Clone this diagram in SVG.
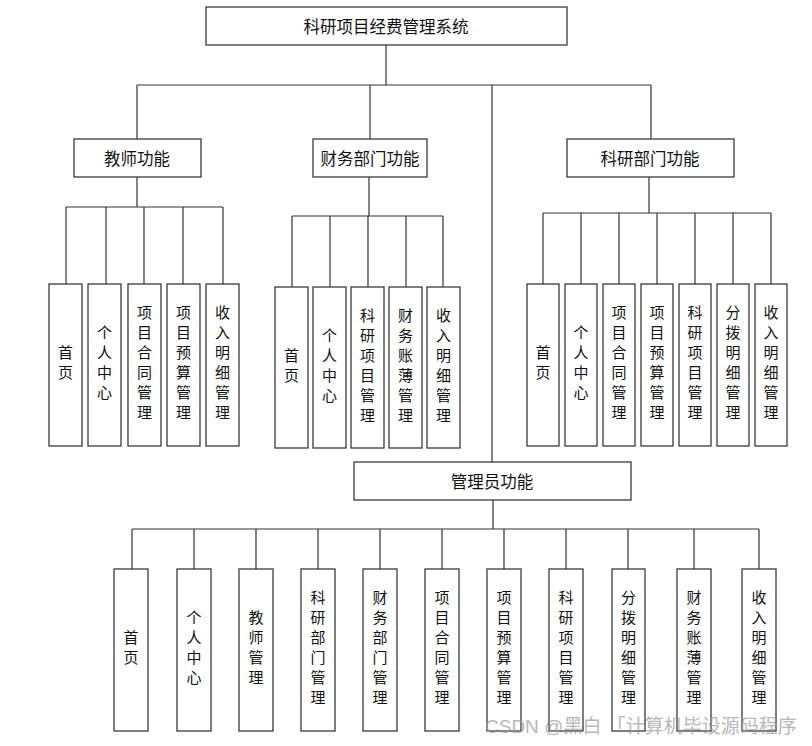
<svg xmlns="http://www.w3.org/2000/svg" width="812" height="746" viewBox="0 0 812 746">
<style>
.box{fill:#fff;stroke:#3a3a3a;stroke-width:1.3}
.ln{fill:none;stroke:#333;stroke-width:1.2}
.h{font-family:"Noto Sans CJK SC","Noto Sans",sans-serif;font-size:16.5px;fill:#111;text-anchor:middle;dominant-baseline:central}
.v{font-family:"Noto Sans CJK SC","Noto Sans",sans-serif;font-size:15px;fill:#111;text-anchor:middle}
.wm{font-family:"Liberation Sans","Noto Sans CJK SC",sans-serif;font-size:19px;fill:#999;opacity:0.7}
</style>
<rect width="812" height="746" fill="#fff"/>
<g id="connectors" class="ln">
<path d="M386,45V85M137,85H651M137,85V139M370,85V139M492,85V462M651,85V139"/>
<path d="M137,177V207M66,207H223M66,207V284M106,207V284M144,207V284M183,207V284M223,207V284"/>
<path d="M369,177V216M292,216H443M292,216V287M330,216V287M368,216V287M406,216V287M443,216V287"/>
<path d="M649,177V213M543,213H771M543,213V284M581,213V284M619,213V284M657,213V284M695,213V284M733,213V284M771,213V284"/>
<path d="M493,500V529M132,529H759M132,529V569M194,529V569M256,529V569M318,529V569M380,529V569M442,529V569M504,529V569M566,529V569M628,529V569M694,529V569M759,529V569"/>
</g>
<g id="root"><rect class="box" x="206" y="7" width="361" height="38"/><text class="h" x="386" y="26">科研项目经费管理系统</text></g>
<g id="teacher"><rect class="box" x="74" y="139" width="127" height="38"/><text class="h" x="137" y="158">教师功能</text></g>
<g id="finance"><rect class="box" x="313" y="139" width="114" height="38"/><text class="h" x="370" y="158">财务部门功能</text></g>
<g id="research"><rect class="box" x="567" y="139" width="167" height="38"/><text class="h" x="650" y="158">科研部门功能</text></g>
<g id="admin"><rect class="box" x="354" y="462" width="277" height="38"/><text class="h" x="492" y="481">管理员功能</text></g>

<!-- teacher children -->
<g id="t1"><rect class="box" x="49" y="284" width="33" height="162"/><text class="v" x="65.5"><tspan x="65.5" y="358">首</tspan><tspan x="65.5" y="378">页</tspan></text></g>
<g id="t2"><rect class="box" x="88" y="284" width="33" height="162"/><text class="v"><tspan x="104.5" y="338">个</tspan><tspan x="104.5" y="358">人</tspan><tspan x="104.5" y="378">中</tspan><tspan x="104.5" y="398">心</tspan></text></g>
<g id="t3"><rect class="box" x="128" y="284" width="33" height="162"/><text class="v"><tspan x="144.5" y="318">项</tspan><tspan x="144.5" y="338">目</tspan><tspan x="144.5" y="358">合</tspan><tspan x="144.5" y="378">同</tspan><tspan x="144.5" y="398">管</tspan><tspan x="144.5" y="418">理</tspan></text></g>
<g id="t4"><rect class="box" x="167" y="284" width="33" height="162"/><text class="v"><tspan x="183.5" y="318">项</tspan><tspan x="183.5" y="338">目</tspan><tspan x="183.5" y="358">预</tspan><tspan x="183.5" y="378">算</tspan><tspan x="183.5" y="398">管</tspan><tspan x="183.5" y="418">理</tspan></text></g>
<g id="t5"><rect class="box" x="206" y="284" width="33" height="162"/><text class="v"><tspan x="222.5" y="318">收</tspan><tspan x="222.5" y="338">入</tspan><tspan x="222.5" y="358">明</tspan><tspan x="222.5" y="378">细</tspan><tspan x="222.5" y="398">管</tspan><tspan x="222.5" y="418">理</tspan></text></g>

<!-- finance children -->
<g id="f1"><rect class="box" x="275" y="287" width="33" height="161"/><text class="v"><tspan x="291.5" y="361">首</tspan><tspan x="291.5" y="381">页</tspan></text></g>
<g id="f2"><rect class="box" x="313" y="287" width="33" height="161"/><text class="v"><tspan x="329.5" y="341">个</tspan><tspan x="329.5" y="361">人</tspan><tspan x="329.5" y="381">中</tspan><tspan x="329.5" y="401">心</tspan></text></g>
<g id="f3"><rect class="box" x="351" y="287" width="33" height="161"/><text class="v"><tspan x="367.5" y="321">科</tspan><tspan x="367.5" y="341">研</tspan><tspan x="367.5" y="361">项</tspan><tspan x="367.5" y="381">目</tspan><tspan x="367.5" y="401">管</tspan><tspan x="367.5" y="421">理</tspan></text></g>
<g id="f4"><rect class="box" x="389" y="287" width="33" height="161"/><text class="v"><tspan x="405.5" y="321">财</tspan><tspan x="405.5" y="341">务</tspan><tspan x="405.5" y="361">账</tspan><tspan x="405.5" y="381">薄</tspan><tspan x="405.5" y="401">管</tspan><tspan x="405.5" y="421">理</tspan></text></g>
<g id="f5"><rect class="box" x="427" y="287" width="33" height="161"/><text class="v"><tspan x="443.5" y="321">收</tspan><tspan x="443.5" y="341">入</tspan><tspan x="443.5" y="361">明</tspan><tspan x="443.5" y="381">细</tspan><tspan x="443.5" y="401">管</tspan><tspan x="443.5" y="421">理</tspan></text></g>

<!-- research children -->
<g id="r1"><rect class="box" x="527" y="284" width="32" height="162"/><text class="v"><tspan x="543" y="358">首</tspan><tspan x="543" y="378">页</tspan></text></g>
<g id="r2"><rect class="box" x="565" y="284" width="32" height="162"/><text class="v"><tspan x="581" y="338">个</tspan><tspan x="581" y="358">人</tspan><tspan x="581" y="378">中</tspan><tspan x="581" y="398">心</tspan></text></g>
<g id="r3"><rect class="box" x="603" y="284" width="32" height="162"/><text class="v"><tspan x="619" y="318">项</tspan><tspan x="619" y="338">目</tspan><tspan x="619" y="358">合</tspan><tspan x="619" y="378">同</tspan><tspan x="619" y="398">管</tspan><tspan x="619" y="418">理</tspan></text></g>
<g id="r4"><rect class="box" x="641" y="284" width="32" height="162"/><text class="v"><tspan x="657" y="318">项</tspan><tspan x="657" y="338">目</tspan><tspan x="657" y="358">预</tspan><tspan x="657" y="378">算</tspan><tspan x="657" y="398">管</tspan><tspan x="657" y="418">理</tspan></text></g>
<g id="r5"><rect class="box" x="679" y="284" width="32" height="162"/><text class="v"><tspan x="695" y="318">科</tspan><tspan x="695" y="338">研</tspan><tspan x="695" y="358">项</tspan><tspan x="695" y="378">目</tspan><tspan x="695" y="398">管</tspan><tspan x="695" y="418">理</tspan></text></g>
<g id="r6"><rect class="box" x="717" y="284" width="32" height="162"/><text class="v"><tspan x="733" y="318">分</tspan><tspan x="733" y="338">拨</tspan><tspan x="733" y="358">明</tspan><tspan x="733" y="378">细</tspan><tspan x="733" y="398">管</tspan><tspan x="733" y="418">理</tspan></text></g>
<g id="r7"><rect class="box" x="755" y="284" width="32" height="162"/><text class="v"><tspan x="771" y="318">收</tspan><tspan x="771" y="338">入</tspan><tspan x="771" y="358">明</tspan><tspan x="771" y="378">细</tspan><tspan x="771" y="398">管</tspan><tspan x="771" y="418">理</tspan></text></g>

<!-- admin children -->
<g id="a1"><rect class="box" x="114" y="569" width="34" height="162"/><text class="v"><tspan x="131" y="643">首</tspan><tspan x="131" y="663">页</tspan></text></g>
<g id="a2"><rect class="box" x="177" y="569" width="34" height="162"/><text class="v"><tspan x="194" y="623">个</tspan><tspan x="194" y="643">人</tspan><tspan x="194" y="663">中</tspan><tspan x="194" y="683">心</tspan></text></g>
<g id="a3"><rect class="box" x="239" y="569" width="34" height="162"/><text class="v"><tspan x="256" y="623">教</tspan><tspan x="256" y="643">师</tspan><tspan x="256" y="663">管</tspan><tspan x="256" y="683">理</tspan></text></g>
<g id="a4"><rect class="box" x="301" y="569" width="34" height="162"/><text class="v"><tspan x="318" y="603">科</tspan><tspan x="318" y="623">研</tspan><tspan x="318" y="643">部</tspan><tspan x="318" y="663">门</tspan><tspan x="318" y="683">管</tspan><tspan x="318" y="703">理</tspan></text></g>
<g id="a5"><rect class="box" x="363" y="569" width="34" height="162"/><text class="v"><tspan x="380" y="603">财</tspan><tspan x="380" y="623">务</tspan><tspan x="380" y="643">部</tspan><tspan x="380" y="663">门</tspan><tspan x="380" y="683">管</tspan><tspan x="380" y="703">理</tspan></text></g>
<g id="a6"><rect class="box" x="425" y="569" width="34" height="162"/><text class="v"><tspan x="442" y="603">项</tspan><tspan x="442" y="623">目</tspan><tspan x="442" y="643">合</tspan><tspan x="442" y="663">同</tspan><tspan x="442" y="683">管</tspan><tspan x="442" y="703">理</tspan></text></g>
<g id="a7"><rect class="box" x="487" y="569" width="34" height="162"/><text class="v"><tspan x="504" y="603">项</tspan><tspan x="504" y="623">目</tspan><tspan x="504" y="643">预</tspan><tspan x="504" y="663">算</tspan><tspan x="504" y="683">管</tspan><tspan x="504" y="703">理</tspan></text></g>
<g id="a8"><rect class="box" x="549" y="569" width="34" height="162"/><text class="v"><tspan x="566" y="603">科</tspan><tspan x="566" y="623">研</tspan><tspan x="566" y="643">项</tspan><tspan x="566" y="663">目</tspan><tspan x="566" y="683">管</tspan><tspan x="566" y="703">理</tspan></text></g>
<g id="a9"><rect class="box" x="612" y="569" width="33" height="162"/><text class="v"><tspan x="628.5" y="603">分</tspan><tspan x="628.5" y="623">拨</tspan><tspan x="628.5" y="643">明</tspan><tspan x="628.5" y="663">细</tspan><tspan x="628.5" y="683">管</tspan><tspan x="628.5" y="703">理</tspan></text></g>
<g id="a10"><rect class="box" x="677" y="569" width="34" height="162"/><text class="v"><tspan x="694" y="603">财</tspan><tspan x="694" y="623">务</tspan><tspan x="694" y="643">账</tspan><tspan x="694" y="663">薄</tspan><tspan x="694" y="683">管</tspan><tspan x="694" y="703">理</tspan></text></g>
<g id="a11"><rect class="box" x="742" y="569" width="34" height="162"/><text class="v"><tspan x="759" y="603">收</tspan><tspan x="759" y="623">入</tspan><tspan x="759" y="643">明</tspan><tspan x="759" y="663">细</tspan><tspan x="759" y="683">管</tspan><tspan x="759" y="703">理</tspan></text></g>

<text class="wm" x="485" y="733">CSDN @黑白 「计算机毕设源码程序</text>
</svg>
